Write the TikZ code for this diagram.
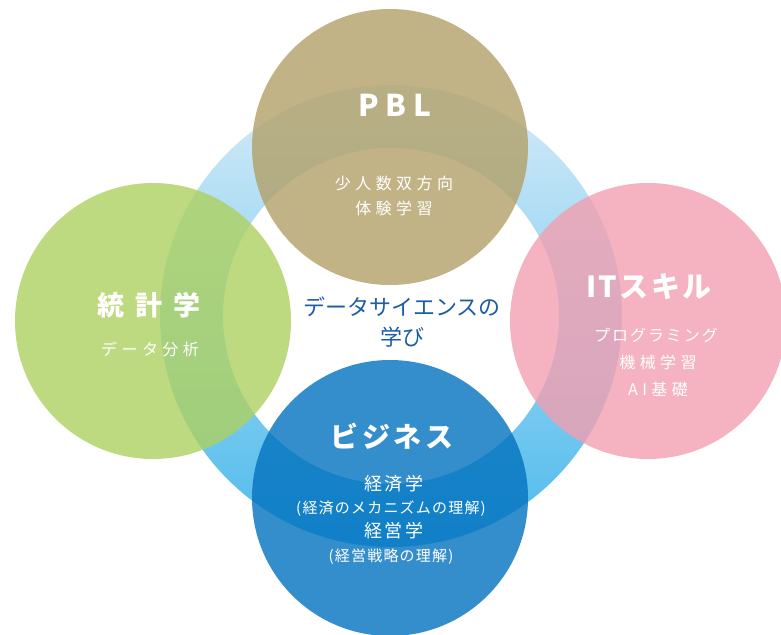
\documentclass[tikz,border=0pt]{standalone}
\usepackage{fontspec}
\newfontfamily\jpfont{Noto Sans CJK JP}
\newcommand\trk[1]{\addfontfeature{LetterSpace=#1}}
\definecolor{ringtop}{RGB}{214,235,248}
\definecolor{ringbot}{RGB}{76,186,236}
\definecolor{pblcol}{RGB}{178,160,104}
\definecolor{statcol}{RGB}{174,209,96}
\definecolor{itcol}{RGB}{242,159,176}
\definecolor{bizcol}{RGB}{2,114,191}
\definecolor{titlecol}{RGB}{28,92,168}

\begin{document}
\begin{tikzpicture}[x=1pt, y=-1pt,
	area/.style={circle, minimum size=276pt, inner sep=0pt, fill opacity=0.8},
	head/.style={text=white, inner sep=0pt, font=\jpfont\bfseries\fontsize{27}{27}\selectfont},
	sub/.style={text=white, inner sep=0pt, font=\jpfont\fontsize{16}{16}\selectfont\trk{28}},
	note/.style={text=white, inner sep=0pt, font=\jpfont\fontsize{15}{15}\selectfont\trk{8}}]
	\useasboundingbox (0, 0) rectangle (781, 634);
	\shade[top color=ringtop, bottom color=ringbot, even odd rule] (391, 316) circle (231) (391, 316) circle (168);
	\node[area, fill=pblcol] (pbl) at (390, 147) {};
	\node[area, fill=statcol] (stat) at (153, 321) {};
	\node[area, fill=itcol] (it) at (648, 321) {};
	\node[area, fill=bizcol] (biz) at (390, 498) {};
	\node[head, font=\jpfont\bfseries\fontsize{30}{30}\selectfont\trk{22}] (pblhead) at (395, 105) {PBL};
	\node[head, font=\jpfont\bfseries\fontsize{27}{27}\selectfont\trk{40}] (stathead) at (149, 305) {統計学};
	\node[head, font=\jpfont\bfseries\fontsize{29}{29}\selectfont\trk{8}] (ithead) at (649, 287) {ITスキル};
	\node[head, font=\jpfont\bfseries\fontsize{28}{28}\selectfont\trk{12}] (bizhead) at (392, 436) {ビジネス};
	\foreach \x/\y/\l in {394/183/少人数双方向, 394/208/体験学習, 150/349/データ分析, 658/362/機械学習, 658/389/AI基礎}
		\node[sub] at (\x, \y) {\l};
	\node[sub, font=\jpfont\fontsize{16}{16}\selectfont\trk{12}] at (656, 335) {プログラミング};
	\foreach \y/\l in {484/経済学, 531/経営学}
		\node[sub, font=\jpfont\fontsize{18}{18}\selectfont\trk{16}] at (394, \y) {\l};
	\foreach \y/\l in {509/(経済のメカニズムの理解), 557/(経営戦略の理解)}
		\node[note] at (391, \y) {\l};
	\node[text=titlecol, font=\jpfont\fontsize{22}{22}\selectfont, inner sep=0pt] (title) at (402, 307) {データサイエンスの};
	\node[text=titlecol, font=\jpfont\fontsize{22}{22}\selectfont, inner sep=0pt] (title2) at (402, 337) {学び};
\end{tikzpicture}
\end{document}
